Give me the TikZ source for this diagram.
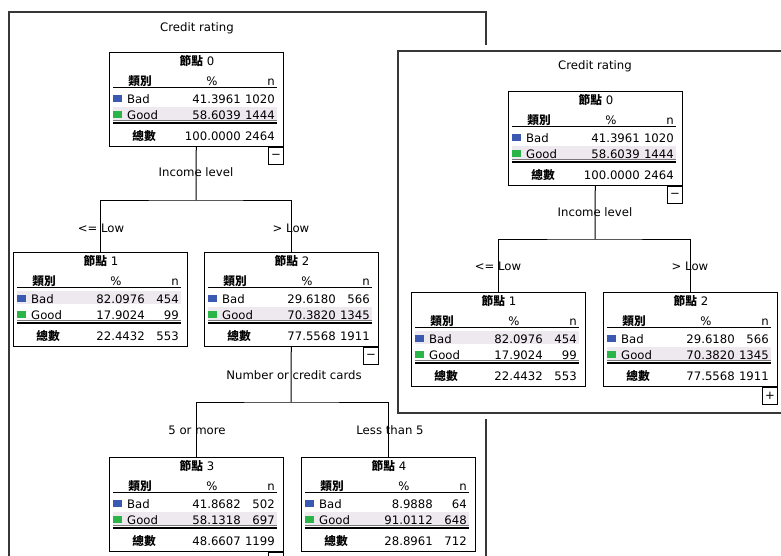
\documentclass[tikz,border=0pt]{standalone}
\usepackage{fontspec}
\setmainfont{DejaVu Sans}
\newfontfamily\cjk{Noto Sans CJK TC}
\usetikzlibrary{positioning,calc}

\definecolor{badblue}{RGB}{59,89,176}
\definecolor{goodgreen}{RGB}{43,181,72}
\definecolor{rowshade}{RGB}{238,233,238}
\definecolor{rulegray}{RGB}{120,120,120}
\definecolor{framegray}{RGB}{55,55,55}

% contents of one tree box: name, node no., bad %, bad n, good %, good n, total %, total n, top of shaded row
\newcommand{\nodetable}[9]{%
  \fill[rowshade] ($(#1.north west)+(4,#9)$) rectangle ++(164,13);
  \draw[line width=0.8pt] ($(#1.north west)+(4,35)$) -- ++(164,0);
  \draw[rulegray, line width=0.6pt] ($(#1.north west)+(4,68)$) -- ++(164,0);
  \draw[line width=1.3pt] ($(#1.north west)+(4,71)$) -- ++(164,0);
  \node[anchor=base] (#1title) at ($(#1.north west)+(88,13)$) {{\cjk\bfseries 節點} #2};
  \node[anchor=base] (#1cat) at ($(#1.north west)+(31,33)$) {\cjk\bfseries 類別};
  \node[anchor=base] (#1pcthead) at ($(#1.north west)+(103,33)$) {\%};
  \node[anchor=base east] (#1nhead) at ($(#1.north west)+(166,33)$) {n};
  \fill[badblue] ($(#1.north west)+(4,43)$) rectangle ++(9,7);
  \node[anchor=base west] (#1bad) at ($(#1.north west)+(18,51)$) {Bad};
  \node[anchor=base east] (#1badpct) at ($(#1.north west)+(132,51)$) {#3};
  \node[anchor=base east] (#1badn) at ($(#1.north west)+(166,51)$) {#4};
  \fill[goodgreen] ($(#1.north west)+(4,59)$) rectangle ++(9,7);
  \node[anchor=base west] (#1good) at ($(#1.north west)+(18,67)$) {Good};
  \node[anchor=base east] (#1goodpct) at ($(#1.north west)+(132,67)$) {#5};
  \node[anchor=base east] (#1goodn) at ($(#1.north west)+(166,67)$) {#6};
  \node[anchor=base] (#1tot) at ($(#1.north west)+(35,88)$) {\cjk\bfseries 總數};
  \node[anchor=base east] (#1totpct) at ($(#1.north west)+(132,88)$) {#7};
  \node[anchor=base east] (#1totn) at ($(#1.north west)+(166,88)$) {#8};
}

\begin{document}
\begin{tikzpicture}[x=1pt, y=-1pt,
    every node/.style={font=\fontsize{11.7}{14}\selectfont, inner sep=0pt},
    statbox/.style={draw=black, line width=1pt, fill=white, minimum width=174pt, minimum height=94pt, anchor=north west},
    togglebox/.style={draw=black, line width=1pt, fill=white, minimum width=15pt, minimum height=17pt, anchor=north east},
    framebox/.style={draw=framegray, line width=1.4pt},
    link/.style={draw=black, line width=1pt}]
        \useasboundingbox (0,0) rectangle (781,555);
        \clip (0,0) rectangle (781,555);

        % Left view
        \draw[framebox] (9,12) rectangle (486,600);
        \node (Ltitle) at (197,28) {Credit rating};

        % Nodes
        \node[statbox] (L0) at (109,52) {};
        \node[statbox] (L1) at (13,252) {};
        \node[statbox] (L2) at (204,252) {};
        \node[statbox] (L3) at (109,457) {};
        \node[statbox] (L4) at (301,457) {};
        \nodetable{L0}{0}{41.3961}{1020}{58.6039}{1444}{100.0000}{2464}{55}
        \nodetable{L1}{1}{82.0976}{454}{17.9024}{99}{22.4432}{553}{39}
        \nodetable{L2}{2}{29.6180}{566}{70.3820}{1345}{77.5568}{1911}{55}
        \nodetable{L3}{3}{41.8682}{502}{58.1318}{697}{48.6607}{1199}{55}
        \nodetable{L4}{4}{8.9888}{64}{91.0112}{648}{28.8961}{712}{55}
        \node[togglebox] (L0toggle) at (L0.south east) {−};
        \node[togglebox] (L2toggle) at (L2.south east) {−};
        \node[togglebox] (L3toggle) at (L3.south east) {};
        \coordinate (L0split) at (196,200);
        \coordinate (L2split) at (291,402);

        % Edges
        \draw[link] (L0) -- (L0split);
        \draw[link] (L1) |- (L0split) -| (L2);
        \draw[link] (L2) -- (L2split);
        \draw[link] (L3) |- (L2split) -| (L4);

        % Labels
        \node (L0var) at (196,172) {Income level};
        \node (L1cond) at (101,228) {<= Low};
        \node (L2cond) at (291,228) {> Low};
        \node (L2var) at (294,375) {Number or credit cards};
        \node (L3cond) at (197,430) {5 or more};
        \node (L4cond) at (390,430) {Less than 5};

        % Right view
        \fill[white] (392,45) rectangle (800,419);
        \draw[framebox] (398,51) rectangle (800,413);
        \node (Rtitle) at (595,66) {Credit rating};

        % Nodes
        \node[statbox] (R0) at (508,91) {};
        \node[statbox] (R1) at (411,292) {};
        \node[statbox] (R2) at (603,292) {};
        \nodetable{R0}{0}{41.3961}{1020}{58.6039}{1444}{100.0000}{2464}{55}
        \nodetable{R1}{1}{82.0976}{454}{17.9024}{99}{22.4432}{553}{39}
        \nodetable{R2}{2}{29.6180}{566}{70.3820}{1345}{77.5568}{1911}{55}
        \node[togglebox] (R0toggle) at (R0.south east) {−};
        \node[togglebox] (R2toggle) at (R2.south east) {+};
        \coordinate (R0split) at (595,239);

        % Edges
        \draw[link] (R0) -- (R0split);
        \draw[link] (R1) |- (R0split) -| (R2);

        % Labels
        \node (R0var) at (595,212) {Income level};
        \node (R1cond) at (498,266) {<= Low};
        \node (R2cond) at (690,266) {> Low};
    \end{tikzpicture}
\end{document}
